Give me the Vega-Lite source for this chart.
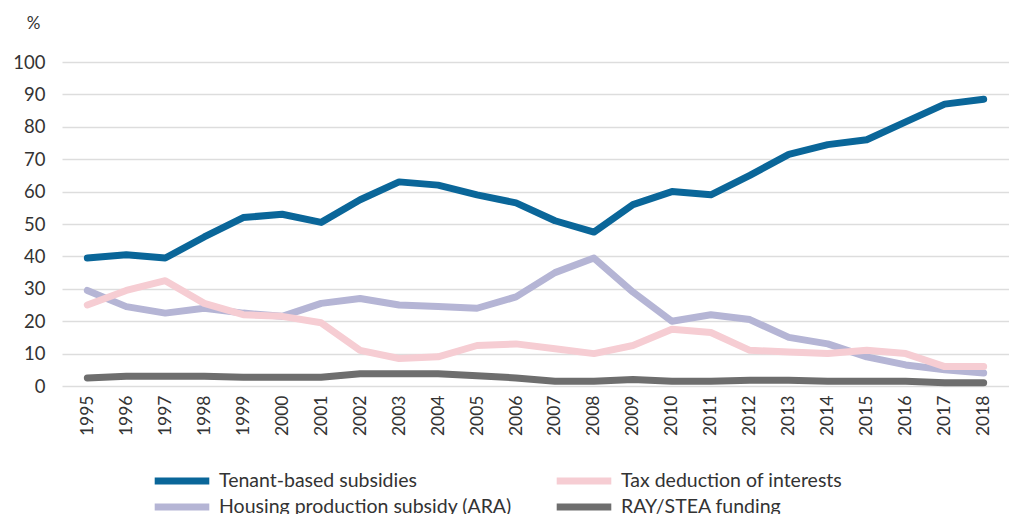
{
  "$schema": "https://vega.github.io/schema/vega-lite/v6.json",
  "width": 947,
  "height": 324,
  "autosize": {"type": "none"},
  "padding": {"left": 62, "top": 62, "right": 0, "bottom": 128},
  "background": "white",
  "config": {
    "font": "Lato",
    "view": {"stroke": null}
  },
  "data": {
    "values": [
      {"year": "1995", "series": "Tenant-based subsidies", "value": 39.5},
      {"year": "1996", "series": "Tenant-based subsidies", "value": 40.5},
      {"year": "1997", "series": "Tenant-based subsidies", "value": 39.5},
      {"year": "1998", "series": "Tenant-based subsidies", "value": 46},
      {"year": "1999", "series": "Tenant-based subsidies", "value": 52},
      {"year": "2000", "series": "Tenant-based subsidies", "value": 53},
      {"year": "2001", "series": "Tenant-based subsidies", "value": 50.5},
      {"year": "2002", "series": "Tenant-based subsidies", "value": 57.5},
      {"year": "2003", "series": "Tenant-based subsidies", "value": 63},
      {"year": "2004", "series": "Tenant-based subsidies", "value": 62},
      {"year": "2005", "series": "Tenant-based subsidies", "value": 59},
      {"year": "2006", "series": "Tenant-based subsidies", "value": 56.5},
      {"year": "2007", "series": "Tenant-based subsidies", "value": 51},
      {"year": "2008", "series": "Tenant-based subsidies", "value": 47.5},
      {"year": "2009", "series": "Tenant-based subsidies", "value": 56},
      {"year": "2010", "series": "Tenant-based subsidies", "value": 60},
      {"year": "2011", "series": "Tenant-based subsidies", "value": 59},
      {"year": "2012", "series": "Tenant-based subsidies", "value": 65},
      {"year": "2013", "series": "Tenant-based subsidies", "value": 71.5},
      {"year": "2014", "series": "Tenant-based subsidies", "value": 74.5},
      {"year": "2015", "series": "Tenant-based subsidies", "value": 76},
      {"year": "2016", "series": "Tenant-based subsidies", "value": 81.5},
      {"year": "2017", "series": "Tenant-based subsidies", "value": 87},
      {"year": "2018", "series": "Tenant-based subsidies", "value": 88.5},
      {"year": "1995", "series": "Housing production subsidy (ARA)", "value": 29.5},
      {"year": "1996", "series": "Housing production subsidy (ARA)", "value": 24.5},
      {"year": "1997", "series": "Housing production subsidy (ARA)", "value": 22.5},
      {"year": "1998", "series": "Housing production subsidy (ARA)", "value": 24},
      {"year": "1999", "series": "Housing production subsidy (ARA)", "value": 22.5},
      {"year": "2000", "series": "Housing production subsidy (ARA)", "value": 21.5},
      {"year": "2001", "series": "Housing production subsidy (ARA)", "value": 25.5},
      {"year": "2002", "series": "Housing production subsidy (ARA)", "value": 27},
      {"year": "2003", "series": "Housing production subsidy (ARA)", "value": 25},
      {"year": "2004", "series": "Housing production subsidy (ARA)", "value": 24.5},
      {"year": "2005", "series": "Housing production subsidy (ARA)", "value": 24},
      {"year": "2006", "series": "Housing production subsidy (ARA)", "value": 27.5},
      {"year": "2007", "series": "Housing production subsidy (ARA)", "value": 35},
      {"year": "2008", "series": "Housing production subsidy (ARA)", "value": 39.5},
      {"year": "2009", "series": "Housing production subsidy (ARA)", "value": 29},
      {"year": "2010", "series": "Housing production subsidy (ARA)", "value": 20},
      {"year": "2011", "series": "Housing production subsidy (ARA)", "value": 22},
      {"year": "2012", "series": "Housing production subsidy (ARA)", "value": 20.5},
      {"year": "2013", "series": "Housing production subsidy (ARA)", "value": 15},
      {"year": "2014", "series": "Housing production subsidy (ARA)", "value": 13},
      {"year": "2015", "series": "Housing production subsidy (ARA)", "value": 9},
      {"year": "2016", "series": "Housing production subsidy (ARA)", "value": 6.5},
      {"year": "2017", "series": "Housing production subsidy (ARA)", "value": 5},
      {"year": "2018", "series": "Housing production subsidy (ARA)", "value": 4},
      {"year": "1995", "series": "Tax deduction of interests", "value": 25},
      {"year": "1996", "series": "Tax deduction of interests", "value": 29.5},
      {"year": "1997", "series": "Tax deduction of interests", "value": 32.5},
      {"year": "1998", "series": "Tax deduction of interests", "value": 25.5},
      {"year": "1999", "series": "Tax deduction of interests", "value": 22},
      {"year": "2000", "series": "Tax deduction of interests", "value": 21.5},
      {"year": "2001", "series": "Tax deduction of interests", "value": 19.5},
      {"year": "2002", "series": "Tax deduction of interests", "value": 11},
      {"year": "2003", "series": "Tax deduction of interests", "value": 8.5},
      {"year": "2004", "series": "Tax deduction of interests", "value": 9},
      {"year": "2005", "series": "Tax deduction of interests", "value": 12.5},
      {"year": "2006", "series": "Tax deduction of interests", "value": 13},
      {"year": "2007", "series": "Tax deduction of interests", "value": 11.5},
      {"year": "2008", "series": "Tax deduction of interests", "value": 10},
      {"year": "2009", "series": "Tax deduction of interests", "value": 12.5},
      {"year": "2010", "series": "Tax deduction of interests", "value": 17.5},
      {"year": "2011", "series": "Tax deduction of interests", "value": 16.5},
      {"year": "2012", "series": "Tax deduction of interests", "value": 11},
      {"year": "2013", "series": "Tax deduction of interests", "value": 10.5},
      {"year": "2014", "series": "Tax deduction of interests", "value": 10},
      {"year": "2015", "series": "Tax deduction of interests", "value": 11},
      {"year": "2016", "series": "Tax deduction of interests", "value": 10},
      {"year": "2017", "series": "Tax deduction of interests", "value": 6},
      {"year": "2018", "series": "Tax deduction of interests", "value": 6},
      {"year": "1995", "series": "RAY/STEA funding", "value": 2.5},
      {"year": "1996", "series": "RAY/STEA funding", "value": 3},
      {"year": "1997", "series": "RAY/STEA funding", "value": 3},
      {"year": "1998", "series": "RAY/STEA funding", "value": 3},
      {"year": "1999", "series": "RAY/STEA funding", "value": 2.7},
      {"year": "2000", "series": "RAY/STEA funding", "value": 2.7},
      {"year": "2001", "series": "RAY/STEA funding", "value": 2.7},
      {"year": "2002", "series": "RAY/STEA funding", "value": 3.8},
      {"year": "2003", "series": "RAY/STEA funding", "value": 3.8},
      {"year": "2004", "series": "RAY/STEA funding", "value": 3.8},
      {"year": "2005", "series": "RAY/STEA funding", "value": 3.2},
      {"year": "2006", "series": "RAY/STEA funding", "value": 2.5},
      {"year": "2007", "series": "RAY/STEA funding", "value": 1.5},
      {"year": "2008", "series": "RAY/STEA funding", "value": 1.5},
      {"year": "2009", "series": "RAY/STEA funding", "value": 2},
      {"year": "2010", "series": "RAY/STEA funding", "value": 1.5},
      {"year": "2011", "series": "RAY/STEA funding", "value": 1.5},
      {"year": "2012", "series": "RAY/STEA funding", "value": 1.8},
      {"year": "2013", "series": "RAY/STEA funding", "value": 1.8},
      {"year": "2014", "series": "RAY/STEA funding", "value": 1.5},
      {"year": "2015", "series": "RAY/STEA funding", "value": 1.5},
      {"year": "2016", "series": "RAY/STEA funding", "value": 1.5},
      {"year": "2017", "series": "RAY/STEA funding", "value": 1},
      {"year": "2018", "series": "RAY/STEA funding", "value": 1}
    ]
  },
  "mark": {"type": "line", "strokeWidth": 7, "strokeJoin": "round", "strokeCap": "round"},
  "encoding": {
    "x": {
      "field": "year",
      "type": "ordinal",
      "scale": {"type": "point", "padding": 0.65},
      "axis": {
        "title": null,
        "labelAngle": -90,
        "labelAlign": "right",
        "labelBaseline": "middle",
        "labelFontSize": 17.5,
        "labelColor": "#333333",
        "labelPadding": 9,
        "ticks": false,
        "domain": false,
        "grid": false
      }
    },
    "y": {
      "field": "value",
      "type": "quantitative",
      "scale": {"domain": [0, 100], "nice": false},
      "axis": {
        "title": "%",
        "titleAngle": 0,
        "titleX": -29,
        "titleY": -30,
        "titleAlign": "center",
        "titleFontSize": 17,
        "titleFontWeight": "normal",
        "titleColor": "#333333",
        "values": [0, 10, 20, 30, 40, 50, 60, 70, 80, 90, 100],
        "labelFontSize": 18.5,
        "labelColor": "#333333",
        "labelPadding": 17,
        "ticks": false,
        "domain": false,
        "gridColor": "#dddddd",
        "gridWidth": 1.5
      }
    },
    "color": {
      "field": "series",
      "type": "nominal",
      "sort": ["Tenant-based subsidies", "Tax deduction of interests", "Housing production subsidy (ARA)", "RAY/STEA funding"],
      "scale": {
        "domain": ["Tenant-based subsidies", "Tax deduction of interests", "Housing production subsidy (ARA)", "RAY/STEA funding"],
        "range": ["#0a6699", "#f6cdd3", "#b5b5d5", "#6e6e6e"]
      },
      "legend": {
        "title": null,
        "orient": "none",
        "legendX": 110,
        "legendY": 409,
        "direction": "horizontal",
        "columns": 2,
        "columnPadding": 30,
        "rowPadding": -2,
        "symbolType": "M-4.2,0H4.2",
        "symbolSize": 169,
        "symbolStrokeWidth": 7,
        "labelFontSize": 19.5,
        "labelColor": "#333333",
        "labelOffset": 27,
        "labelLimit": 400
      }
    }
  }
}
